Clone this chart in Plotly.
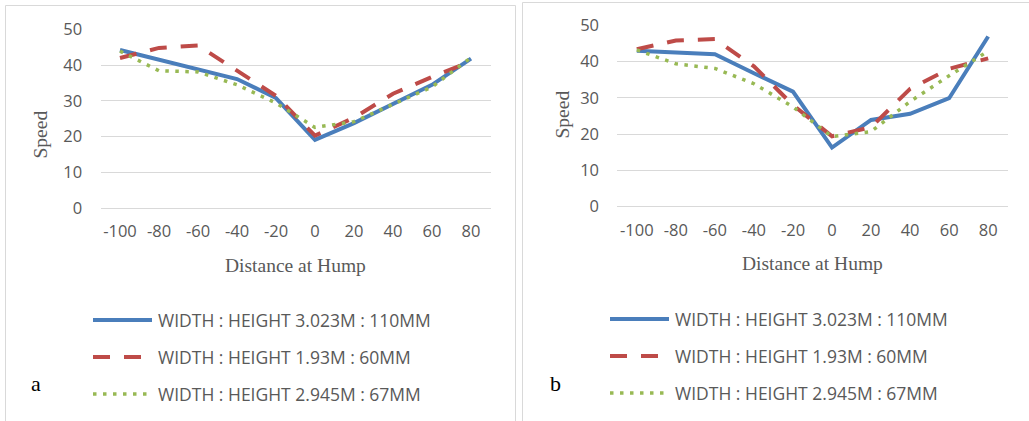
import plotly.graph_objects as go

W, H = 1029, 421

distance = [-100, -80, -60, -40, -20, 0, 20, 40, 60, 80]
series_names = [
    "WIDTH : HEIGHT 3.023M : 110MM",
    "WIDTH : HEIGHT 1.93M : 60MM",
    "WIDTH : HEIGHT 2.945M : 67MM",
]

# chart a
a_blue = [44.2, 41.5, 39.0, 36.1, 30.8, 19.1, 23.8, 29.0, 34.5, 41.8]
a_red = [42.0, 44.8, 45.5, 38.6, 31.4, 20.3, 25.3, 32.0, 36.7, 41.0]
a_green = [43.9, 38.4, 38.1, 34.5, 29.4, 22.6, 24.2, 29.0, 33.9, 42.1]

# chart b
b_blue = [43.0, 42.6, 42.0, 36.8, 31.7, 16.3, 23.9, 25.6, 29.9, 46.9]
b_red = [43.4, 45.8, 46.2, 38.7, 28.0, 19.4, 21.9, 32.5, 38.0, 40.9]
b_green = [43.2, 39.4, 38.1, 33.9, 27.5, 19.3, 20.7, 29.0, 36.1, 42.9]

y_ticks = [0, 10, 20, 30, 40, 50]
x_title = "Distance at Hump"
y_title = "Speed"
panel_labels = ["a", "b"]

colors = ["#4A7EBB", "#BE4B48", "#98B954"]
dashes = ["solid", "17px,14px", "3.5px,6.5px"]
widths = [4, 4, 3.5]
GRAY = "#595959"
GRID = "#D9D9D9"


def px(x):
    return x / W


def py(y):
    return 1 - y / H


fig = go.Figure()

panels = [
    dict(data=[a_blue, a_red, a_green], xax="x", yax="y",
         xdom=[px(100.5), px(490.5)], ydom=[py(208.3), py(29.3)],
         xt=295.5, ytx=265, st_x=40.5, st_y=135, lab=(36, 383),
         leg_x0=93, leg_x1=152, leg_tx=156, leg_y=[320, 357, 394],
         border=(5.5, 515.5, 5.5)),
    dict(data=[b_blue, b_red, b_green], xax="x2", yax="y2",
         xdom=[px(617.3), px(1007.7)], ydom=[py(206.7), py(25.3)],
         xt=812, ytx=263, st_x=561.5, st_y=115, lab=(555, 383),
         leg_x0=610, leg_x1=669, leg_tx=673, leg_y=[319, 356, 393],
         border=(522.5, None, 2.5)),
]

for i, p in enumerate(panels):
    for j, vals in enumerate(p["data"]):
        fig.add_trace(go.Scatter(
            x=[str(d) for d in distance], y=vals, mode="lines",
            name=series_names[j], showlegend=False,
            line=dict(color=colors[j], width=widths[j], dash=dashes[j]),
            xaxis=p["xax"], yaxis=p["yax"],
        ))

axis_font = dict(family="Open Sans", size=16.5, color=GRAY)
common_x = dict(type="category", range=[-0.5, 9.5], showgrid=False,
                showline=False, zeroline=False, ticks="outside",
                ticklen=8, tickcolor="rgba(0,0,0,0)", tickfont=axis_font,
                fixedrange=True, automargin=False)
common_y = dict(range=[0, 50], tickvals=y_ticks, showgrid=True,
                gridcolor=GRID, gridwidth=1, zeroline=True,
                zerolinecolor=GRID, zerolinewidth=1, showline=False,
                ticks="outside", ticklen=14, tickcolor="rgba(0,0,0,0)",
                tickfont=axis_font, fixedrange=True, automargin=False)

fig.update_layout(
    xaxis=dict(domain=panels[0]["xdom"], anchor="y", **common_x),
    yaxis=dict(domain=panels[0]["ydom"], anchor="x", **common_y),
    xaxis2=dict(domain=panels[1]["xdom"], anchor="y2", **common_x),
    yaxis2=dict(domain=panels[1]["ydom"], anchor="x2", **common_y),
)

shapes = []
annotations = []

for i, p in enumerate(panels):
    bl, br, bt = p["border"]
    # panel border: left, top, (right)
    shapes.append(dict(type="line", xref="paper", yref="paper",
                       x0=px(bl), x1=px(bl), y0=0, y1=py(bt),
                       line=dict(color=GRID, width=1), layer="below"))
    shapes.append(dict(type="line", xref="paper", yref="paper",
                       x0=px(bl), x1=1 if br is None else px(br), y0=py(bt), y1=py(bt),
                       line=dict(color=GRID, width=1), layer="below"))
    if br is not None:
        shapes.append(dict(type="line", xref="paper", yref="paper",
                           x0=px(br), x1=px(br), y0=0, y1=py(bt),
                           line=dict(color=GRID, width=1), layer="below"))

    annotations.append(dict(text=x_title, x=px(p["xt"]), y=py(p["ytx"]),
                            xref="paper", yref="paper", showarrow=False,
                            xanchor="center", yanchor="middle",
                            font=dict(family="Liberation Serif", size=19.5, color=GRAY)))
    annotations.append(dict(text=y_title, x=px(p["st_x"]), y=py(p["st_y"]),
                            xref="paper", yref="paper", showarrow=False,
                            textangle=-90, xanchor="center", yanchor="middle",
                            font=dict(family="Liberation Serif", size=19.5, color=GRAY)))
    annotations.append(dict(text=panel_labels[i], x=px(p["lab"][0]), y=py(p["lab"][1]),
                            xref="paper", yref="paper", showarrow=False,
                            xanchor="center", yanchor="middle",
                            font=dict(family="Liberation Serif", size=22, color="#000000")))
    for j in range(3):
        yy = py(p["leg_y"][j])
        shapes.append(dict(type="line", xref="paper", yref="paper",
                           x0=px(p["leg_x0"]), x1=px(p["leg_x1"]), y0=yy, y1=yy,
                           line=dict(color=colors[j], width=widths[j], dash=dashes[j])))
        annotations.append(dict(text=series_names[j], x=px(p["leg_tx"]), y=yy,
                                xref="paper", yref="paper", showarrow=False,
                                xanchor="left", yanchor="middle",
                                font=dict(family="Open Sans", size=17.5, color=GRAY)))

fig.update_layout(
    width=W, height=H,
    margin=dict(l=0, r=0, t=0, b=0, pad=0, autoexpand=False),
    paper_bgcolor="white", plot_bgcolor="white",
    showlegend=False,
    shapes=shapes, annotations=annotations,
)

fig.write_html("out.html", config={"displayModeBar": False})
